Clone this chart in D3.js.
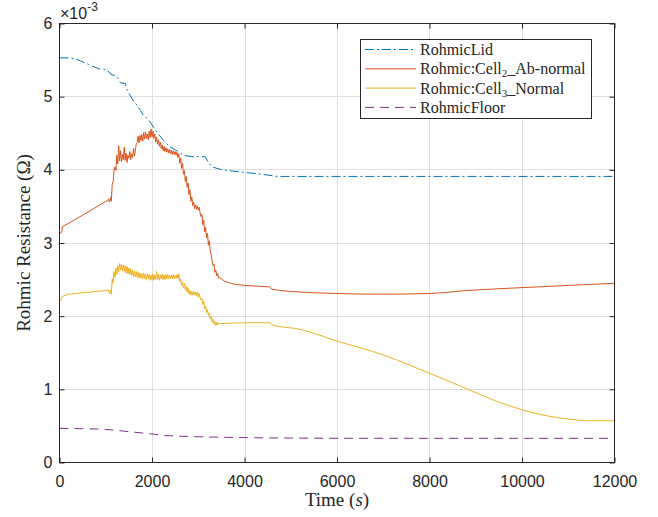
<!DOCTYPE html>
<html lang="en">
<head>
    <meta charset="UTF-8">
    <title>Rohmic Resistance</title>
    <!--import d3 version 7-->
    <script type="text/javascript" src="https://cdn.jsdelivr.net/npm/d3@7/dist/d3.min.js"></script>
    <style>
        body{margin:0;background:#fff;}
    </style>
</head>
<body>
    <svg></svg>
    <script>
        //tick labels
        var xTicks = [0,2000,4000,6000,8000,10000,12000];
        var yTicks = [0,1,2,3,4,5,6];

        //RohmicLid (values in 1e-3 ohm)
        var lidTime = [0,200,340,450,630,850,1030,1100,1245,1317,1424,1461,1570,1680,1750,1820,1930,2035,2140,2250,2400,2540,2680,2860,3150,3210,3300,3510,3940,4370,4600,4700,12000];
        var lidVal  = [5.53,5.53,5.52,5.49,5.44,5.38,5.37,5.31,5.27,5.19,5.18,5.09,4.97,4.88,4.81,4.74,4.68,4.58,4.49,4.40,4.31,4.26,4.20,4.18,4.18,4.11,4.04,4.00,3.97,3.94,3.92,3.91,3.91];

        //Rohmic:Cell2_Ab-normal
        var cell2HeadTime = [0,50,60,500,1000];
        var cell2HeadVal  = [3.13,3.15,3.22,3.38,3.57];
        //noisy part, one reading every 20 s from 1040 s to 3460 s
        var cell2NoiseVal = [
            3.58,3.60,3.56,3.62,3.57,3.80,3.84,4.00,4.04,3.99,
            4.20,4.08,4.33,4.12,4.26,4.11,4.21,4.14,4.31,4.13,
            4.23,4.10,4.20,4.16,4.25,4.14,4.22,4.17,4.29,4.19,
            4.27,4.35,4.37,4.46,4.37,4.47,4.40,4.48,4.39,4.51,
            4.42,4.52,4.43,4.49,4.41,4.53,4.44,4.56,4.45,4.53,
            4.43,4.49,4.38,4.45,4.35,4.41,4.32,4.38,4.29,4.34,
            4.26,4.32,4.25,4.30,4.24,4.29,4.23,4.28,4.22,4.27,
            4.21,4.26,4.21,4.25,4.20,4.24,4.17,4.22,4.09,4.16,
            4.02,4.09,3.94,3.99,3.84,3.91,3.76,3.82,3.66,3.73,
            3.57,3.63,3.51,3.56,3.47,3.52,3.46,3.51,3.45,3.49,
            3.41,3.36,3.39,3.25,3.31,3.15,3.21,3.07,3.13,2.97,
            3.03,2.89,2.84,2.75,2.69,2.71,2.60,2.63,2.55,2.58,
            2.52,2.53];
        var cell2TailTime = [3600,4000,4550,4580,5200,6000,6900,8000,8800,10000,11000,12000];
        var cell2TailVal  = [2.47,2.42,2.40,2.37,2.33,2.31,2.30,2.31,2.35,2.39,2.42,2.45];

        //Rohmic:Cell3_Normal
        var cell3HeadTime = [0,30,60,200,500,1000];
        var cell3HeadVal  = [2.20,2.22,2.27,2.30,2.32,2.35];
        //noisy part, one reading every 20 s from 1040 s to 3440 s
        var cell3NoiseVal = [
            2.35,2.36,2.31,2.36,2.30,2.51,2.45,2.61,2.53,2.66,
            2.57,2.69,2.61,2.72,2.63,2.71,2.62,2.70,2.61,2.69,
            2.59,2.68,2.58,2.66,2.57,2.65,2.56,2.63,2.54,2.62,
            2.54,2.61,2.53,2.60,2.52,2.59,2.52,2.58,2.51,2.59,
            2.51,2.57,2.50,2.58,2.51,2.57,2.49,2.56,2.50,2.58,
            2.49,2.56,2.50,2.61,2.50,2.57,2.49,2.56,2.51,2.58,
            2.50,2.56,2.50,2.57,2.51,2.57,2.51,2.56,2.51,2.56,
            2.51,2.57,2.51,2.56,2.52,2.57,2.51,2.58,2.47,2.51,
            2.42,2.47,2.39,2.45,2.36,2.41,2.33,2.39,2.30,2.35,
            2.29,2.34,2.29,2.34,2.29,2.33,2.28,2.33,2.26,2.31,
            2.25,2.22,2.24,2.16,2.20,2.10,2.14,2.05,2.09,2.01,
            2.04,1.96,2.00,1.92,1.96,1.89,1.93,1.87,1.92,1.88,
            1.90];
        var cell3TailTime = [3500,4000,4550,4600,5200,6000,7000,7575,8000,8800,9400,10000,10600,11200,11500,12000];
        var cell3TailVal  = [1.90,1.91,1.91,1.88,1.82,1.66,1.47,1.33,1.22,1.01,0.85,0.72,0.63,0.58,0.57,0.57];

        //RohmicFloor
        var floorTime = [0,500,1000,1300,1600,2000,2300,2500,3000,4000,5000,6400,12000];
        var floorVal  = [0.466,0.462,0.452,0.435,0.415,0.390,0.368,0.362,0.352,0.340,0.334,0.331,0.330];

        //legend
        var legendNames = ["RohmicLid","Rohmic:Cell|2|_Ab-normal","Rohmic:Cell|3|_Normal","RohmicFloor"];
        var colors = ["#0072BD","#D95319","#EDB120","#7E2F8E"];
        var dashes = ["9,3,2,3",null,null,"9,6"];

        var W = 658, H = 517;
        var sans = "Arial, 'Liberation Sans', Helvetica, sans-serif";
        var serif = "'Liberation Serif', 'Times New Roman', serif";
        var axisColor = "#262626";

        var svg = d3.select("svg").attr("width",W).attr("height",H);
        svg.append("rect").attr("width",W).attr("height",H).attr("fill","#fff");

        var x = d3.scaleLinear().domain([0,12000]).range([59.5,614.5]);
        var y = d3.scaleLinear().domain([0,6]).range([462.5,23.5]);

        //build the series: rough part (head + noise) drawn straight, tail drawn smooth
        function pairs(t,v){ return d3.zip(t,v); }
        var cell2Rough = pairs(cell2HeadTime,cell2HeadVal).concat(pairs(d3.range(1040,3461,20),cell2NoiseVal));
        var cell2Smooth = [cell2Rough[cell2Rough.length-1]].concat(pairs(cell2TailTime,cell2TailVal));
        var cell3Rough = pairs(cell3HeadTime,cell3HeadVal).concat(pairs(d3.range(1040,3441,20),cell3NoiseVal));
        var cell3Smooth = [cell3Rough[cell3Rough.length-1]].concat(pairs(cell3TailTime,cell3TailVal));

        var pieces = [
            {data:pairs(lidTime,lidVal),k:0,smooth:false},
            {data:cell2Rough,k:1,smooth:false},
            {data:cell2Smooth,k:1,smooth:true},
            {data:cell3Rough,k:2,smooth:false},
            {data:cell3Smooth,k:2,smooth:true},
            {data:pairs(floorTime,floorVal),k:3,smooth:true}
        ];

        //grid
        var grid = svg.append("g").attr("stroke","#dfdfdf").attr("stroke-width",1);
        grid.selectAll(".gx").data(xTicks.slice(1,-1)).enter().append("line")
            .attr("x1",function(d){return Math.round(x(d))+0.5}).attr("x2",function(d){return Math.round(x(d))+0.5})
            .attr("y1",y(0)).attr("y2",y(6));
        grid.selectAll(".gy").data(yTicks.slice(1,-1)).enter().append("line")
            .attr("y1",function(d){return Math.round(y(d)-0.5)+0.5}).attr("y2",function(d){return Math.round(y(d)-0.5)+0.5})
            .attr("x1",x(0)).attr("x2",x(12000));

        //clip
        svg.append("defs").append("clipPath").attr("id","plotclip")
            .append("rect").attr("x",x(0)).attr("y",y(6)).attr("width",x(12000)-x(0)).attr("height",y(0)-y(6));

        var straightLine = d3.line()
            .x(function(d){return x(d[0])})
            .y(function(d){return y(d[1])});
        var smoothLine = d3.line()
            .curve(d3.curveMonotoneX)
            .x(function(d){return x(d[0])})
            .y(function(d){return y(d[1])});

        svg.append("g").attr("clip-path","url(#plotclip)")
            .selectAll("path").data(pieces).enter().append("path")
            .attr("d",function(p){return p.smooth ? smoothLine(p.data) : straightLine(p.data)})
            .attr("fill","none")
            .attr("stroke",function(p){return colors[p.k]})
            .attr("stroke-width",1)
            .attr("stroke-linejoin","round")
            .attr("stroke-dasharray",function(p){return dashes[p.k]});

        //axes
        function styleAxis(g){
            g.select(".domain").remove();
            g.selectAll("line").attr("stroke",axisColor);
            g.selectAll("text").attr("fill",axisColor).style("font-family",sans).style("font-size","16px");
        }
        svg.append("g").attr("transform","translate(0,"+y(0)+")")
            .call(d3.axisBottom(x).tickValues(xTicks).tickSizeInner(-5).tickSizeOuter(0).tickPadding(13).tickFormat(d3.format("d")))
            .call(styleAxis);
        svg.append("g").attr("transform","translate(0,"+y(6)+")")
            .call(d3.axisTop(x).tickValues(xTicks).tickSizeInner(-5).tickSizeOuter(0).tickFormat(""))
            .call(styleAxis);
        svg.append("g").attr("transform","translate("+x(0)+",0)")
            .call(d3.axisLeft(y).tickValues(yTicks).tickSizeInner(-5).tickSizeOuter(0).tickPadding(7).tickFormat(d3.format("d")))
            .call(styleAxis);
        svg.append("g").attr("transform","translate("+x(12000)+",0)")
            .call(d3.axisRight(y).tickValues(yTicks).tickSizeInner(-5).tickSizeOuter(0).tickFormat(""))
            .call(styleAxis);

        //box
        svg.append("rect")
            .attr("x",x(0)).attr("y",y(6))
            .attr("width",x(12000)-x(0)).attr("height",y(0)-y(6))
            .attr("fill","none").attr("stroke",axisColor).attr("stroke-width",1);

        //exponent
        var expo = svg.append("text").attr("x",60).attr("y",19)
            .attr("fill",axisColor).style("font-family",sans).style("font-size","16px");
        expo.append("tspan").text("\u00d710");
        expo.append("tspan").attr("dy",-8).style("font-size","12px").text("-3");

        //axis labels
        var xl = svg.append("text").attr("x",(x(0)+x(12000))/2).attr("y",506)
            .attr("text-anchor","middle").attr("fill",axisColor)
            .style("font-family",serif).style("font-size","19px");
        xl.append("tspan").text("Time (");
        xl.append("tspan").style("font-style","italic").text("s");
        xl.append("tspan").text(")");

        svg.append("text")
            .attr("transform","translate(30,"+((y(0)+y(6))/2)+") rotate(-90)")
            .attr("text-anchor","middle").attr("fill",axisColor)
            .style("font-family",serif).style("font-size","19px")
            .text("Rohmic Resistance (\u03a9)");

        //legend
        var lg = svg.append("g");
        lg.append("rect").attr("x",360.5).attr("y",39.5).attr("width",231).attr("height",79)
            .attr("fill","#fff").attr("stroke",axisColor).attr("stroke-width",1);
        var items = lg.selectAll("g.item").data(legendNames).enter().append("g")
            .attr("transform",function(d,i){return "translate(0,"+(49.5+i*19.3)+")"});
        items.append("line").attr("x1",365).attr("x2",416).attr("y1",0).attr("y2",0)
            .attr("stroke",function(d,i){return colors[i]}).attr("stroke-width",1)
            .attr("stroke-dasharray",function(d,i){return dashes[i]});
        items.each(function(d){
            var parts = d.split("|");
            var t = d3.select(this).append("text").attr("x",420).attr("y",5.5)
                .attr("fill",axisColor).style("font-family",serif).style("font-size","16px");
            t.append("tspan").text(parts[0]);
            if(parts.length>1){
                t.append("tspan").attr("dy",3).style("font-size","11px").text(parts[1]);
                t.append("tspan").attr("dy",-3).text(parts[2]);
            }
        });
    </script>
</body>
</html>
